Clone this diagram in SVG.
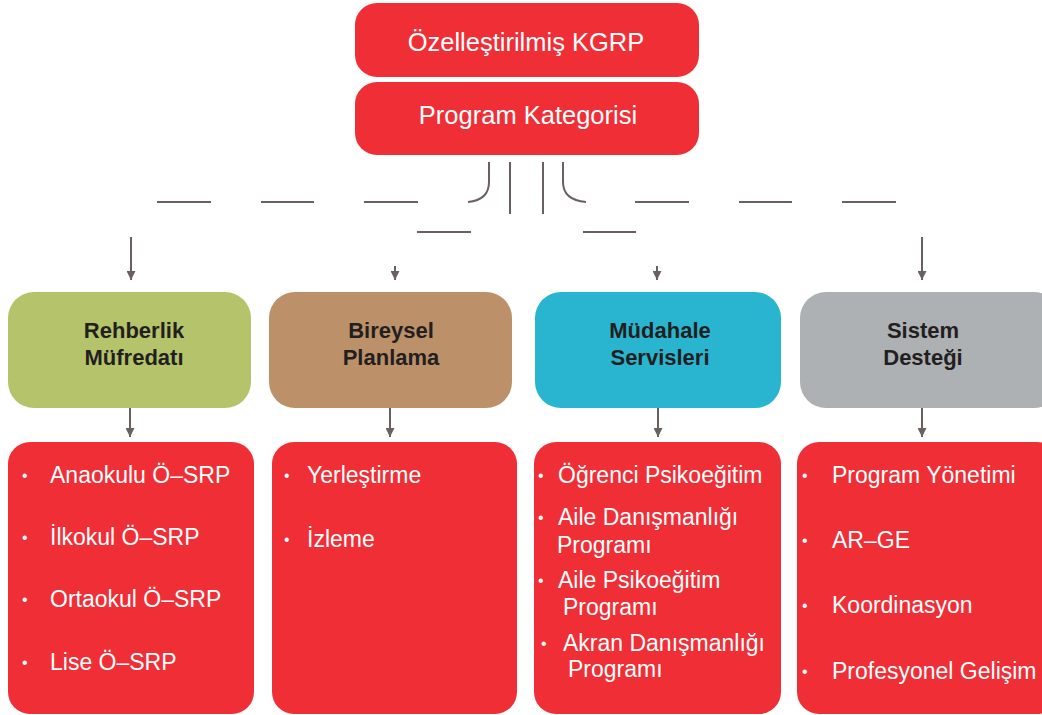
<svg xmlns="http://www.w3.org/2000/svg" width="1042" height="715" viewBox="0 0 1042 715">
<defs>
<marker id="ah" viewBox="0 0 10 10" refX="10" refY="5" markerWidth="4.5" markerHeight="4.5" markerUnits="strokeWidth" orient="auto">
<path d="M0,0 L10,5 L0,10 z" fill="#6b6060"/>
</marker>
<style>
.red{fill:#ef2e36}
.ln{stroke:#6b6060;stroke-width:2;fill:none}
.ar{stroke:#6b6060;stroke-width:2;fill:none;marker-end:url(#ah)}
.hd{font-family:"Liberation Sans",Arial,sans-serif;font-size:25.5px;fill:#ffffff;text-anchor:middle}
.cat{font-family:"Liberation Sans",Arial,sans-serif;font-size:22px;font-weight:bold;fill:#231f20;text-anchor:middle}
.it{font-family:"Liberation Sans",Arial,sans-serif;font-size:23px;fill:#ffffff}
.bu{font-family:"Liberation Sans",Arial,sans-serif;font-size:16px;fill:#ffffff}
</style>
</defs>
<rect width="1042" height="715" fill="#ffffff"/>
<g id="top1"><rect class="red" x="355" y="3" width="344" height="74" rx="22"/><text class="hd" x="526" y="51">Özelleştirilmiş KGRP</text></g>
<g id="top2"><rect class="red" x="355" y="82" width="344" height="73" rx="22"/><text class="hd" x="528" y="124">Program Kategorisi</text></g>
<g id="connectors">
<path class="ln" d="M489,162 V182 Q489,200 468,202"/>
<path class="ln" d="M510,162 V214"/>
<path class="ln" d="M543,162 V214"/>
<path class="ln" d="M563,162 V182 Q563,200 586,202"/>
<path class="ln" d="M157,202 H211 M261,202 H314 M364,202 H418 M635,202 H689 M739,202 H792 M842,202 H896"/>
<path class="ln" d="M417,232 H471 M583,232 H636"/>
<path class="ar" d="M131,237 V280"/>
<path class="ar" d="M395,266 V280"/>
<path class="ar" d="M657,266 V280"/>
<path class="ar" d="M922,237 V280"/>
<path class="ar" d="M130,408 V437"/>
<path class="ar" d="M390,408 V437"/>
<path class="ar" d="M658,408 V437"/>
<path class="ar" d="M922,408 V437"/>
</g>
<g id="cat1"><rect x="8" y="292" width="243" height="116" rx="26" fill="#b5c46b"/><text class="cat" x="134" y="338">Rehberlik</text><text class="cat" x="134" y="365">Müfredatı</text></g>
<g id="cat2"><rect x="269" y="292" width="243" height="116" rx="26" fill="#bc9169"/><text class="cat" x="391" y="338">Bireysel</text><text class="cat" x="391" y="365">Planlama</text></g>
<g id="cat3"><rect x="535" y="292" width="246" height="116" rx="26" fill="#29b5d0"/><text class="cat" x="660" y="338">Müdahale</text><text class="cat" x="660" y="365">Servisleri</text></g>
<g id="cat4"><rect x="800" y="292" width="260" height="116" rx="26" fill="#adb1b3"/><text class="cat" x="923" y="338">Sistem</text><text class="cat" x="923" y="365">Desteği</text></g>
<g id="list1"><rect class="red" x="8" y="442" width="246" height="272" rx="22"/>
<text class="bu" x="22" y="481">•</text><text class="it" x="50" y="483">Anaokulu Ö–SRP</text>
<text class="bu" x="22" y="543">•</text><text class="it" x="50" y="545">İlkokul Ö–SRP</text>
<text class="bu" x="22" y="605">•</text><text class="it" x="50" y="607">Ortaokul Ö–SRP</text>
<text class="bu" x="22" y="668">•</text><text class="it" x="50" y="670">Lise Ö–SRP</text>
</g>
<g id="list2"><rect class="red" x="272" y="442" width="245" height="272" rx="22"/>
<text class="bu" x="284" y="481">•</text><text class="it" x="307" y="483">Yerleştirme</text>
<text class="bu" x="284" y="545">•</text><text class="it" x="307" y="547">İzleme</text>
</g>
<g id="list3"><rect class="red" x="534" y="442" width="247" height="272" rx="22"/>
<text class="bu" x="538" y="481">•</text><text class="it" x="558" y="483">Öğrenci Psikoeğitim</text>
<text class="bu" x="538" y="523">•</text><text class="it" x="558" y="525">Aile Danışmanlığı</text>
<text class="it" x="557" y="553">Programı</text>
<text class="bu" x="538" y="586">•</text><text class="it" x="558" y="588">Aile Psikoeğitim</text>
<text class="it" x="563" y="615">Programı</text>
<text class="bu" x="541" y="649">•</text><text class="it" x="563" y="651">Akran Danışmanlığı</text>
<text class="it" x="568" y="677">Programı</text>
</g>
<g id="list4"><rect class="red" x="797" y="442" width="262" height="272" rx="22"/>
<text class="bu" x="802" y="481">•</text><text class="it" x="832" y="483">Program Yönetimi</text>
<text class="bu" x="802" y="546">•</text><text class="it" x="832" y="548">AR–GE</text>
<text class="bu" x="802" y="611">•</text><text class="it" x="832" y="613">Koordinasyon</text>
<text class="bu" x="802" y="677">•</text><text class="it" x="832" y="679">Profesyonel Gelişim</text>
</g>
</svg>
